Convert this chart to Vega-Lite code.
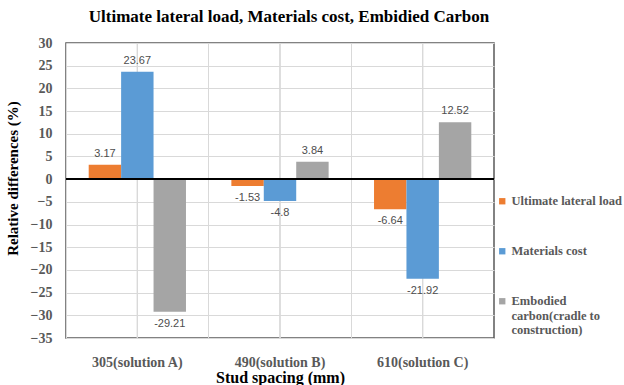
{
  "$schema": "https://vega.github.io/schema/vega-lite/v6.json",
  "width": 428,
  "height": 295,
  "autosize": {"type": "none"},
  "padding": {"left": 66, "top": 43, "right": 130, "bottom": 47},
  "background": "white",
  "config": {
    "view": {"stroke": "#595959", "strokeWidth": 1.5},
    "font": "Liberation Serif"
  },
  "title": {
    "text": "Ultimate lateral load, Materials cost, Embidied Carbon",
    "font": "Liberation Serif",
    "fontSize": 17,
    "fontWeight": "bold",
    "color": "#000000",
    "anchor": "middle",
    "offset": 10,
    "dx": 9
  },
  "data": {
    "values": [
      {"spacing": "305(solution A)", "series": "Ultimate lateral load", "value": 3.17},
      {"spacing": "305(solution A)", "series": "Materials cost", "value": 23.67},
      {"spacing": "305(solution A)", "series": "Embodied carbon(cradle to construction)", "value": -29.21},
      {"spacing": "490(solution B)", "series": "Ultimate lateral load", "value": -1.53},
      {"spacing": "490(solution B)", "series": "Materials cost", "value": -4.8},
      {"spacing": "490(solution B)", "series": "Embodied carbon(cradle to construction)", "value": 3.84},
      {"spacing": "610(solution C)", "series": "Ultimate lateral load", "value": -6.64},
      {"spacing": "610(solution C)", "series": "Materials cost", "value": -21.92},
      {"spacing": "610(solution C)", "series": "Embodied carbon(cradle to construction)", "value": 12.52}
    ]
  },
  "encoding": {
    "x": {
      "field": "spacing",
      "type": "nominal",
      "sort": null,
      "scale": {"paddingInner": 0, "paddingOuter": 0},
      "axis": {
        "title": "Stud spacing (mm)",
        "titleFont": "Liberation Serif",
        "titleFontSize": 16,
        "titleFontWeight": "bold",
        "titleColor": "#000000",
        "titlePadding": 0,
        "labelFont": "Liberation Serif",
        "labelFontSize": 14,
        "labelFontWeight": "bold",
        "labelColor": "#595959",
        "labelAngle": 0,
        "labelPadding": 17,
        "ticks": false,
        "domain": false,
        "grid": true,
        "bandPosition": 0,
        "gridColor": "#d9d9d9",
        "gridWidth": 1
      }
    }
  },
  "layer": [
    {
      "mark": {"type": "rule", "color": "#d9d9d9", "strokeWidth": 1},
      "encoding": {}
    },
    {
      "mark": {"type": "bar"},
      "encoding": {
        "y": {
          "field": "value",
          "type": "quantitative",
          "scale": {"domain": [-35, 30], "nice": false},
          "axis": {
            "title": "Relative differences (%)",
            "titleFont": "Liberation Serif",
            "titleFontSize": 15,
            "titleFontWeight": "bold",
            "titleColor": "#000000",
            "titlePadding": 10,
            "titleY": 135,
            "labelFont": "Liberation Serif",
            "labelFontSize": 14,
            "labelFontWeight": "bold",
            "labelColor": "#595959",
            "labelPadding": 14,
            "labelOverlap": false,
            "tickCount": 30,
            "values": [-35, -30, -25, -20, -15, -10, -5, 0, 5, 10, 15, 20, 25, 30],
            "ticks": false,
            "domain": false,
            "grid": true,
            "gridColor": "#d9d9d9",
            "gridWidth": 1
          }
        },
        "xOffset": {
          "field": "series",
          "type": "nominal",
          "sort": ["Ultimate lateral load", "Materials cost", "Embodied carbon(cradle to construction)"],
          "scale": {"paddingInner": 0, "paddingOuter": 0.7}
        },
        "color": {
          "field": "series",
          "type": "nominal",
          "scale": {
            "domain": ["Ultimate lateral load", "Materials cost", "Embodied carbon(cradle to construction)"],
            "range": ["#ED7D31", "#5B9BD5", "#A5A5A5"]
          },
          "legend": {
            "title": null,
            "orient": "none",
            "legendX": 430,
            "legendY": 152,
            "symbolType": "square",
            "symbolSize": 40,
            "symbolStrokeWidth": 0,
            "labelFont": "Liberation Serif",
            "labelFontSize": 12.5,
            "labelFontWeight": "bold",
            "labelColor": "#595959",
            "labelOffset": 3,
            "labelLimit": 200,
            "rowPadding": 37,
            "labelExpr": "datum.label == 'Embodied carbon(cradle to construction)' ? ['Embodied', 'carbon(cradle to', 'construction)'] : datum.label"
          }
        }
      }
    },
    {
      "mark": {"type": "rule", "color": "#000000", "strokeWidth": 1.5},
      "encoding": {
        "y": {"datum": 0, "type": "quantitative"},
        "x": {"value": 0},
        "x2": {"value": 428}
      }
    },
    {
      "transform": [{"filter": "datum.value >= 0"}],
      "mark": {"type": "text", "font": "Liberation Sans", "fontSize": 11, "color": "#4d4d4d", "baseline": "middle", "dy": -11},
      "encoding": {
        "y": {"field": "value", "type": "quantitative"},
        "xOffset": {"field": "series", "type": "nominal", "sort": ["Ultimate lateral load", "Materials cost", "Embodied carbon(cradle to construction)"]},
        "text": {"field": "value", "type": "nominal"}
      }
    },
    {
      "transform": [{"filter": "datum.value < 0"}],
      "mark": {"type": "text", "font": "Liberation Sans", "fontSize": 11, "color": "#4d4d4d", "baseline": "middle", "dy": 12},
      "encoding": {
        "y": {"field": "value", "type": "quantitative"},
        "xOffset": {"field": "series", "type": "nominal", "sort": ["Ultimate lateral load", "Materials cost", "Embodied carbon(cradle to construction)"]},
        "text": {"field": "value", "type": "nominal"}
      }
    }
  ]
}
